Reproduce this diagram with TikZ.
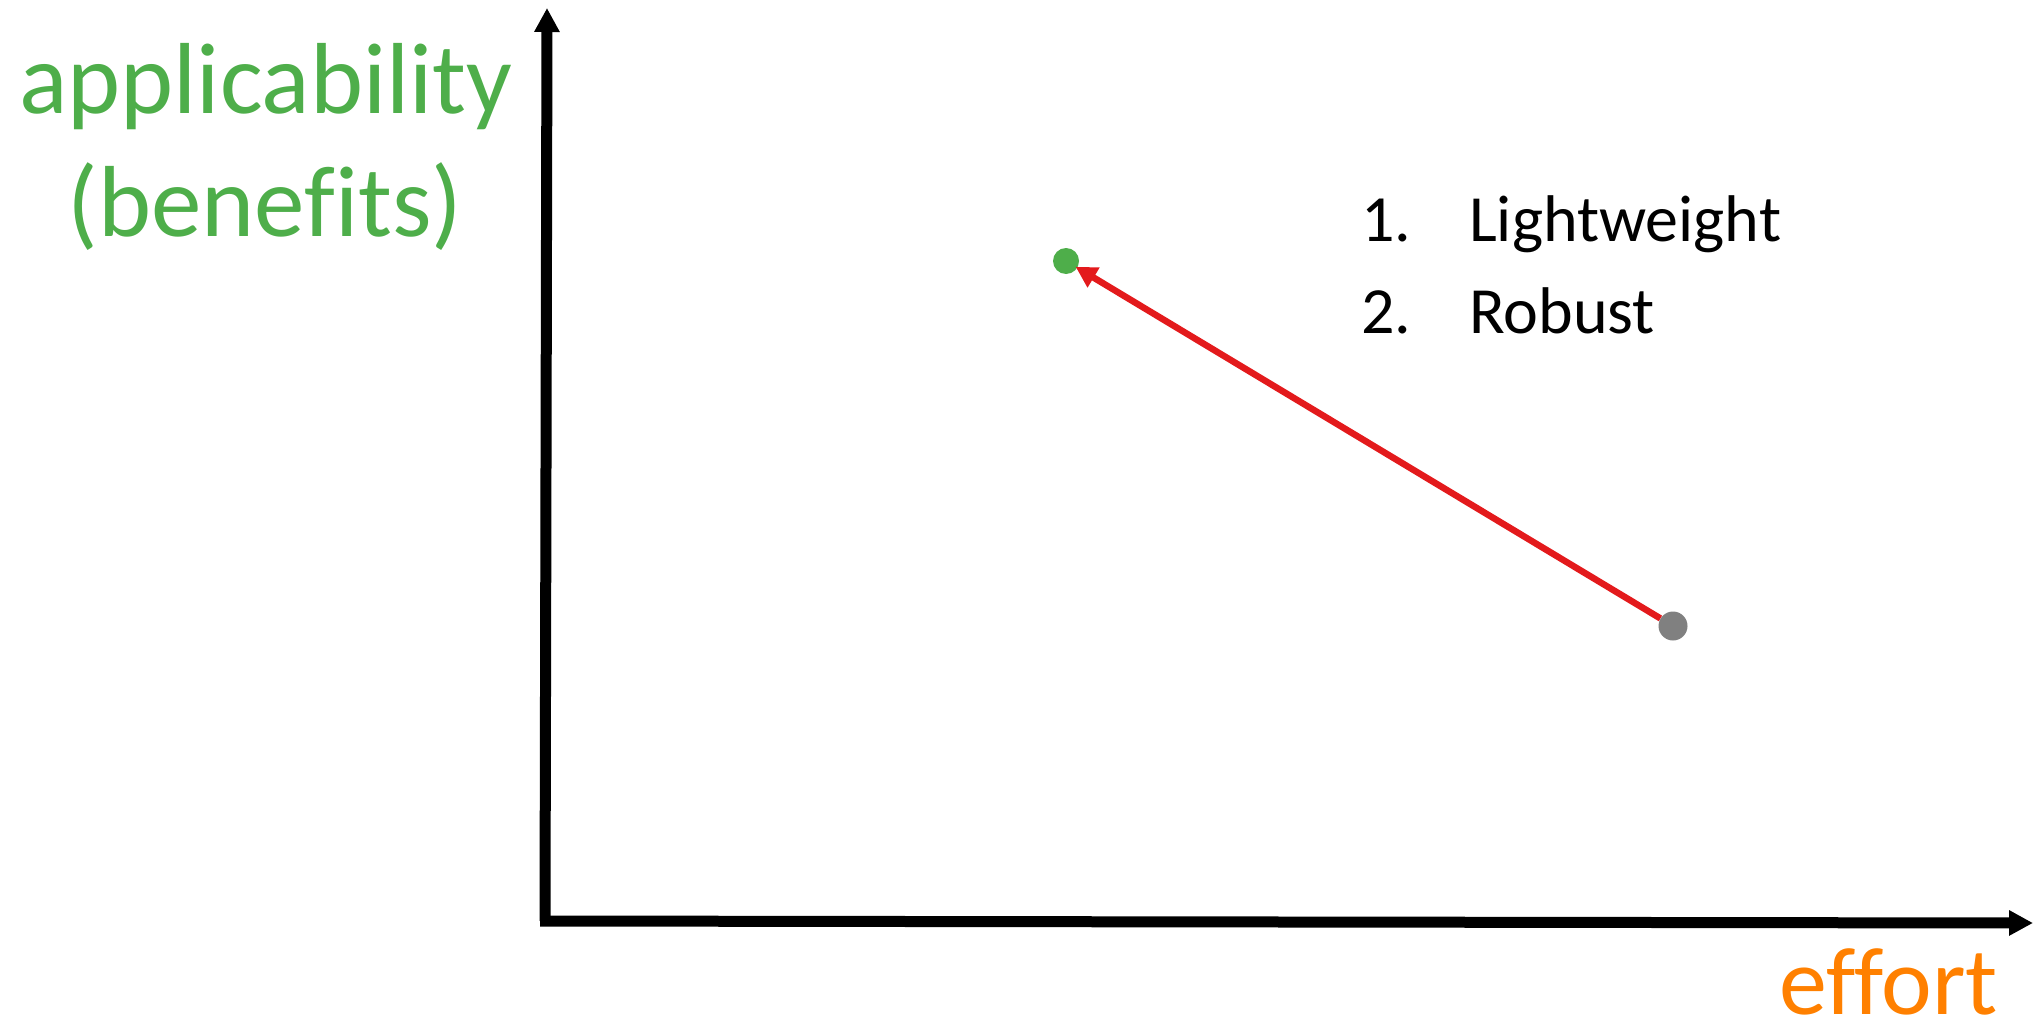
\documentclass[tikz,border=0pt]{standalone}
\usepackage{fontspec}
\setmainfont{Carlito}[Ligatures=NoCommon]
\usetikzlibrary{arrows.meta}
\definecolor{benefitgreen}{RGB}{78,174,74}
\definecolor{effortorange}{RGB}{255,128,0}
\definecolor{movered}{RGB}{227,26,28}
\definecolor{dotgray}{RGB}{128,128,128}
\tikzset{
  axis/.style={line width=11pt, black, -{Triangle[length=24pt,width=24pt]}},
  move/.style={line width=6.5pt, movered, -{Triangle[length=21pt,width=22pt]}, shorten >=-2pt},
  dot/.style={circle, inner sep=0pt, minimum size=#1, fill},
  bigtext/.style={font=\fontsize{101}{120}\selectfont, inner sep=0pt, text depth=0pt},
  listtext/.style={font=\fontsize{66}{80}\selectfont, inner sep=0pt, anchor=base west},
}
\begin{document}
\begin{tikzpicture}[x=1pt,y=-1pt]
\useasboundingbox (0,0) rectangle (2033,1027);
% axes
\coordinate (origin) at (545,921);
\coordinate (xstart) at (540,921);
\coordinate (ytop) at (547,8);
\coordinate (xend) at (2033,923);
\draw[axis] (origin) -- (ytop);
\draw[axis] (xstart) -- (xend);
% axis labels
\node[bigtext, benefitgreen, anchor=base] (ylab1) at (266,114) {applicability};
\node[bigtext, benefitgreen, anchor=base] (ylab2) at (265,236) {(benefits)};
\node[bigtext, effortorange, anchor=base east, font=\fontsize{96}{115}\selectfont] (xlab) at (1998,1014) {effort};
% points
\node[dot=26pt, benefitgreen] (good) at (1066,261) {};
\node[dot=29pt, dotgray] (start) at (1673,626) {};
\draw[move] (start) -- (good);
% list
\node[listtext] (n1) at (1361,241) {1.};
\node[listtext] (t1) at (1469,241) {Lightweight};
\node[listtext] (n2) at (1361,333) {2.};
\node[listtext] (t2) at (1469,333) {Robust};
\end{tikzpicture}
\end{document}
